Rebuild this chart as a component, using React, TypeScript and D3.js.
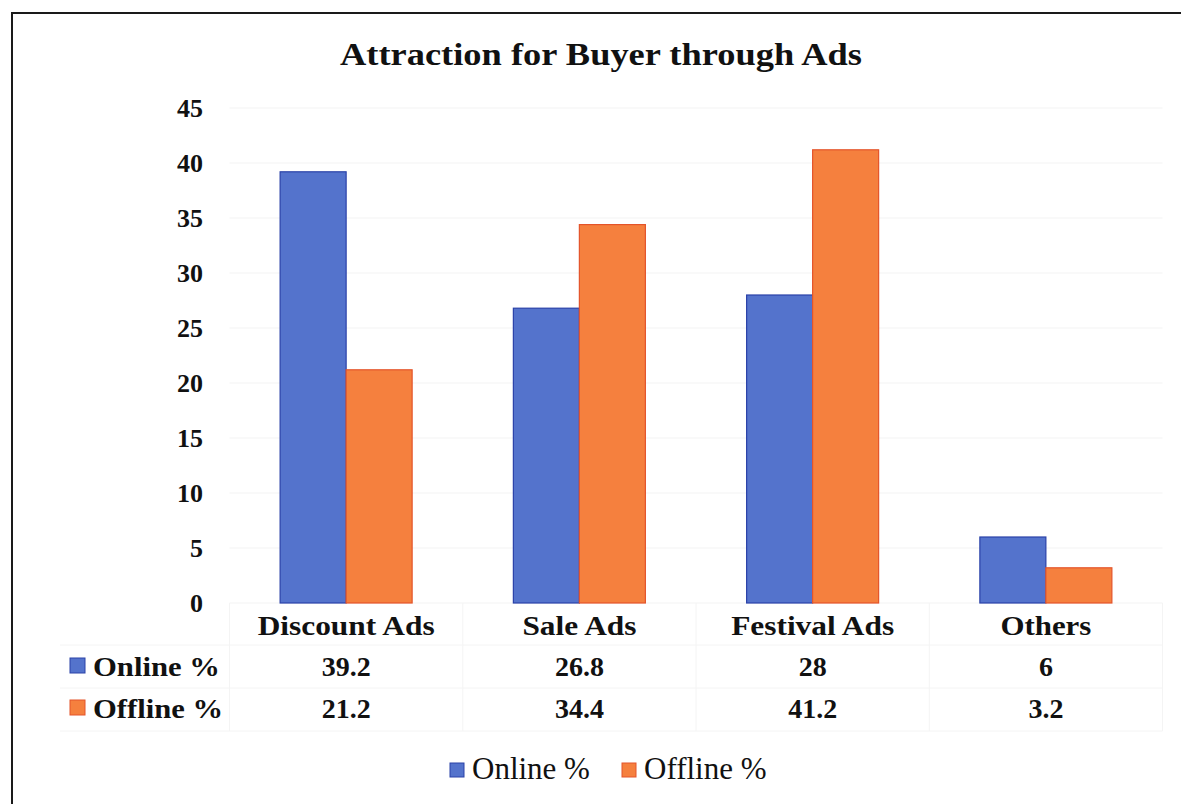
import React from "react";
import * as d3 from "d3";

const categories = ["Discount Ads", "Sale Ads", "Festival Ads", "Others"];
const seriesNames = ["Online %", "Offline %"];
const onlineValues = [39.2, 26.8, 28, 6];
const offlineValues = [21.2, 34.4, 41.2, 3.2];
const yTicks = [0, 5, 10, 15, 20, 25, 30, 35, 40, 45];
const title = "Attraction for Buyer through Ads";

const W = 1181;
const H = 804;
const FONT = "'Liberation Serif', 'Times New Roman', serif";
const FILL = ["#5473cc", "#f5803e"];
const STROKE = ["#2a42a8", "#e4542a"];

// measured label widths (scan is horizontally stretched)
const catWidths = [177, 114, 163, 91];
const rowLabelWidths = [127, 130];

export default function App() {
  const x0 = d3.scaleBand<string>().domain(categories).range([229.5, 1162.5]).padding(0);
  const x1 = d3
    .scaleBand<string>()
    .domain(seriesNames)
    .range([0, x0.bandwidth()])
    .paddingInner(0)
    .paddingOuter(0.767);
  const y = d3.scaleLinear().domain([0, 45]).range([603, 108]);
  const data = [onlineValues, offlineValues];

  const rowBaselines = [676, 718];
  const tableLines = [645, 688, 731];

  return (
    <svg
      width={W}
      height={H}
      style={{ position: "absolute", left: 0, top: 0, background: "#fff" }}
      fontFamily={FONT}
    >
      <rect x={0} y={0} width={W} height={H} fill="#fff" />
      <rect x={12} y={13} width={1200} height={820} fill="none" stroke="#1a1a1a" strokeWidth={2} />

      <text
        x={601}
        y={65}
        textAnchor="middle"
        fontSize={31}
        fontWeight="bold"
        textLength={522}
        lengthAdjust="spacingAndGlyphs"
        fill="#111"
      >
        {title}
      </text>

      {/* gridlines */}
      {yTicks.map((t) => (
        <line key={"g" + t} x1={229.5} x2={1162.5} y1={y(t)} y2={y(t)} stroke="#f3f3f3" strokeWidth={1} />
      ))}

      {/* table lines */}
      {tableLines.map((ty) => (
        <line key={"h" + ty} x1={60} x2={1162.5} y1={ty} y2={ty} stroke="#f4f4f4" strokeWidth={1} />
      ))}
      {categories.map((c) => (
        <line
          key={"v" + c}
          x1={x0(c)!}
          x2={x0(c)!}
          y1={603}
          y2={731}
          stroke="#f4f4f4"
          strokeWidth={1}
        />
      ))}
      <line x1={1162.5} x2={1162.5} y1={603} y2={731} stroke="#f4f4f4" strokeWidth={1} />

      {/* y labels */}
      {yTicks.map((t) => (
        <text
          key={"y" + t}
          x={203}
          y={y(t)}
          dy="0.35em"
          textAnchor="end"
          fontSize={26}
          fontWeight="bold"
          fill="#111"
        >
          {t}
        </text>
      ))}

      {/* bars */}
      {categories.map((c, ci) =>
        seriesNames.map((s, si) => {
          const v = data[si][ci];
          return (
            <rect
              key={c + s}
              x={x0(c)! + x1(s)!}
              y={y(v)}
              width={x1.bandwidth()}
              height={y(0) - y(v)}
              fill={FILL[si]}
              stroke={STROKE[si]}
              strokeWidth={1.2}
            />
          );
        })
      )}

      {/* category labels */}
      {categories.map((c, ci) => (
        <text
          key={"c" + c}
          x={x0(c)! + x0.bandwidth() / 2}
          y={635}
          textAnchor="middle"
          fontSize={27}
          fontWeight="bold"
          textLength={catWidths[ci]}
          lengthAdjust="spacingAndGlyphs"
          fill="#111"
        >
          {c}
        </text>
      ))}

      {/* table rows */}
      {seriesNames.map((s, si) => (
        <g key={"row" + s}>
          <rect
            x={70}
            y={rowBaselines[si] - 18}
            width={15}
            height={15}
            fill={FILL[si]}
            stroke={STROKE[si]}
            strokeWidth={1}
          />
          <text
            x={93}
            y={rowBaselines[si]}
            fontSize={27}
            fontWeight="bold"
            textLength={rowLabelWidths[si]}
            lengthAdjust="spacingAndGlyphs"
            fill="#111"
          >
            {s}
          </text>
          {categories.map((c, ci) => (
            <text
              key={"val" + c}
              x={x0(c)! + x0.bandwidth() / 2}
              y={rowBaselines[si]}
              textAnchor="middle"
              fontSize={28}
              fontWeight="bold"
              fill="#111"
            >
              {data[si][ci]}
            </text>
          ))}
        </g>
      ))}

      {/* bottom legend */}
      {seriesNames.map((s, si) => {
        const lx = si === 0 ? 450 : 622;
        return (
          <g key={"leg" + s}>
            <rect
              x={lx}
              y={763}
              width={14}
              height={14}
              fill={FILL[si]}
              stroke={STROKE[si]}
              strokeWidth={1}
            />
            <text x={lx + 22} y={779} fontSize={31} fill="#111">
              {s}
            </text>
          </g>
        );
      })}
    </svg>
  );
}
